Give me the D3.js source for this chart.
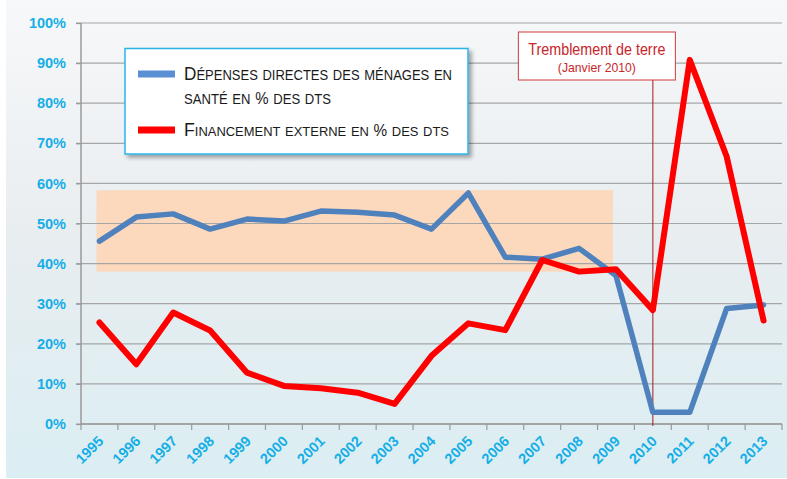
<!DOCTYPE html>
<html><head><meta charset="utf-8">
<script src="https://cdn.jsdelivr.net/npm/d3@7"></script>
<style>html,body{margin:0;padding:0;background:#fff;}svg{display:block;}</style>
</head><body>
<script>
const years = ["1995","1996","1997","1998","1999","2000","2001","2002","2003","2004","2005","2006","2007","2008","2009","2010","2011","2012","2013"];
const depensesMenages = [45.6,51.6,52.4,48.6,51.1,50.6,53.1,52.8,52.1,48.6,57.6,41.6,41.1,43.8,37.0,2.9,2.9,28.8,29.7];
const financementExterne = [25.3,14.9,27.8,23.3,12.8,9.5,8.9,7.8,5.0,17.0,25.1,23.4,40.9,38.0,38.6,28.4,90.8,66.7,25.8];
const yTicks = [0,10,20,30,40,50,60,70,80,90,100];
const bandRange = [38, 58.3];           // shaded zone (% values)
const bandYears = ["1995","2009"];
const quakeYear = "2010";
const seriesNames = ["Dépenses directes des ménages en santé en % des DTS","Financement externe en % des DTS"];

const W = 787, H = 479;
const svg = d3.select("body").append("svg").attr("width", W).attr("height", H);
const defs = svg.append("defs");
const grad = defs.append("linearGradient").attr("id","bg").attr("x1",0).attr("y1",0).attr("x2",0).attr("y2",1);
grad.append("stop").attr("offset","0%").attr("stop-color","#f7f8f9");
grad.append("stop").attr("offset","50%").attr("stop-color","#e8edf0");
grad.append("stop").attr("offset","100%").attr("stop-color","#dbeef3");
const filt = defs.append("filter").attr("id","shadow").attr("x","-10%").attr("y","-10%").attr("width","130%").attr("height","140%");
filt.append("feDropShadow").attr("dx",3).attr("dy",3).attr("stdDeviation",2).attr("flood-color","#000").attr("flood-opacity",0.35);

svg.append("rect").attr("x",6).attr("y",0).attr("width",W-6).attr("height",478).attr("fill","url(#bg)");

const x = d3.scaleBand().domain(years).range([81, 782]).padding(0);
const y = d3.scaleLinear().domain([0,100]).range([424, 23]);
const cx = d => x(d) + x.bandwidth()/2;

// shaded band
svg.append("rect")
  .attr("x", cx(bandYears[0]) - 3)
  .attr("width", cx(bandYears[1]) - cx(bandYears[0]))
  .attr("y", y(bandRange[1]))
  .attr("height", y(bandRange[0]) - y(bandRange[1]))
  .attr("fill", "#fcd9bd");

// gridlines
svg.append("g").selectAll("line").data(yTicks).join("line")
  .attr("x1", 76).attr("x2", 782)
  .attr("y1", d => y(d)).attr("y2", d => y(d))
  .attr("stroke", "#a6a6a6").attr("stroke-width", 1.2);

// y axis
const yAxis = d3.axisLeft(y).tickValues(yTicks).tickFormat(d => d + "%").tickSize(5).tickPadding(10);
const gy = svg.append("g").attr("transform","translate(81,0)").call(yAxis);
gy.select(".domain").attr("stroke","#9a9a9a").attr("stroke-width",1.5).attr("d","M0,23V424");
gy.selectAll(".tick line").attr("stroke","#9a9a9a").attr("stroke-width",1.2);
gy.selectAll(".tick text").attr("fill","#16aee6").attr("font-family","Liberation Sans, Arial, sans-serif")
  .attr("font-weight","bold").attr("font-size","14.5px");

// x axis
const xAxis = d3.axisBottom(x).tickSize(0).tickFormat(d => d);
const gx = svg.append("g").attr("transform","translate(0,424)").call(xAxis);
gx.select(".domain").attr("stroke","#9a9a9a").attr("stroke-width",1.5).attr("d","M81,0H782");
gx.selectAll(".tick text")
  .attr("fill","#16aee6").attr("font-family","Liberation Sans, Arial, sans-serif")
  .attr("font-weight","bold").attr("font-size","14.5px")
  .attr("text-anchor","end").attr("dy",null).attr("y",null)
  .attr("transform","translate(5,18) rotate(-45)");
// boundary ticks
const bounds = years.map(d => x(d)).concat([x(years[years.length-1]) + x.bandwidth()]);
svg.append("g").selectAll("line").data(bounds).join("line")
  .attr("x1", d => d).attr("x2", d => d).attr("y1", 424).attr("y2", 430)
  .attr("stroke","#9a9a9a").attr("stroke-width",1.2);

// quake line
svg.append("line").attr("x1", cx(quakeYear)).attr("x2", cx(quakeYear))
  .attr("y1", 80).attr("y2", 426).attr("stroke","#a31b1b").attr("stroke-width",1);

// series lines
const line = d3.line().x((d,i) => cx(years[i])).y(d => y(d));
svg.append("path").datum(depensesMenages).attr("d", line)
  .attr("fill","none").attr("stroke","#4f81bd").attr("stroke-width",5.5)
  .attr("stroke-linejoin","round").attr("stroke-linecap","round");
svg.append("path").datum(financementExterne).attr("d", line)
  .attr("fill","none").attr("stroke","#ff0000").attr("stroke-width",6)
  .attr("stroke-linejoin","round").attr("stroke-linecap","round");

// annotation box
const qx = cx(quakeYear);
const ann = svg.append("g");
ann.append("rect").attr("x", qx - 134.5).attr("y", 32).attr("width", 157).attr("height", 48)
  .attr("fill","#fff").attr("stroke","#d13a3a").attr("stroke-width",1);
ann.append("text").attr("x", qx - 56).attr("y", 54.5).attr("text-anchor","middle")
  .attr("font-family","Liberation Sans, Arial, sans-serif").attr("font-size","17px").attr("fill","#c8262b")
  .attr("textLength",137).attr("lengthAdjust","spacingAndGlyphs").text("Tremblement de terre");
ann.append("text").attr("x", qx - 56).attr("y", 72).attr("text-anchor","middle")
  .attr("font-family","Liberation Sans, Arial, sans-serif").attr("font-size","13px").attr("fill","#c8262b")
  .attr("textLength",78).attr("lengthAdjust","spacingAndGlyphs").text("(Janvier 2010)");

// legend
const lg = svg.append("g");
lg.append("rect").attr("x",125).attr("y",48.5).attr("width",343).attr("height",105.5)
  .attr("fill","#fff").attr("stroke","#2bb5ea").attr("stroke-width",1.5).attr("filter","url(#shadow)");
lg.append("line").attr("x1",138).attr("x2",175).attr("y1",74).attr("y2",74).attr("stroke","#5b8fd4").attr("stroke-width",7);
lg.append("line").attr("x1",138).attr("x2",175).attr("y1",130).attr("y2",130).attr("stroke","#ff0000").attr("stroke-width",7);

// small-caps rendering: words split into runs (big initial / % / small caps), spaces as gaps
function smallCaps(g, str, xx, yy, len, big, pct, small) {
  const size = {big: big, pct: pct, small: small};
  const kind = ch => ch === "%" ? "pct" : (/[A-ZÉ]/.test(ch) ? "big" : "small");
  const spaceW = parseFloat(small) * 0.36;
  const words = str.split(" ");
  const items = [];
  words.forEach((w, wi) => {
    if (wi > 0) items.push({gap: true});
    let cur = null, buf = "";
    for (const ch of w) {
      const k = kind(ch);
      if (cur === null) cur = k;
      if (k !== cur) { items.push({k: cur, s: buf}); buf = ""; cur = k; }
      buf += ch;
    }
    if (buf) items.push({k: cur, s: buf});
  });
  items.forEach(it => {
    if (it.gap) { it.w = spaceW; return; }
    it.node = g.append("text").attr("y", yy)
      .attr("font-family","Liberation Sans, Arial, sans-serif").attr("fill","#1a1a1a")
      .attr("font-size", size[it.k]).text(it.s.toUpperCase());
    it.w = it.node.node().getComputedTextLength();
  });
  const k = len / d3.sum(items, d => d.w);
  let px = xx;
  items.forEach(it => {
    const w = it.w * k;
    if (it.node) it.node.attr("x", px).attr("textLength", w).attr("lengthAdjust","spacingAndGlyphs");
    px += w;
  });
}
smallCaps(lg, "Dépenses directes des ménages en", 184, 79.5, 268, "18.5px", "16px", "14px");
smallCaps(lg, "santé en % des dts", 184, 103.5, 147, "18.5px", "16px", "14px");
smallCaps(lg, "Financement externe en % des dts", 184, 136, 265, "18.5px", "16px", "13.5px");
</script>
</body></html>
